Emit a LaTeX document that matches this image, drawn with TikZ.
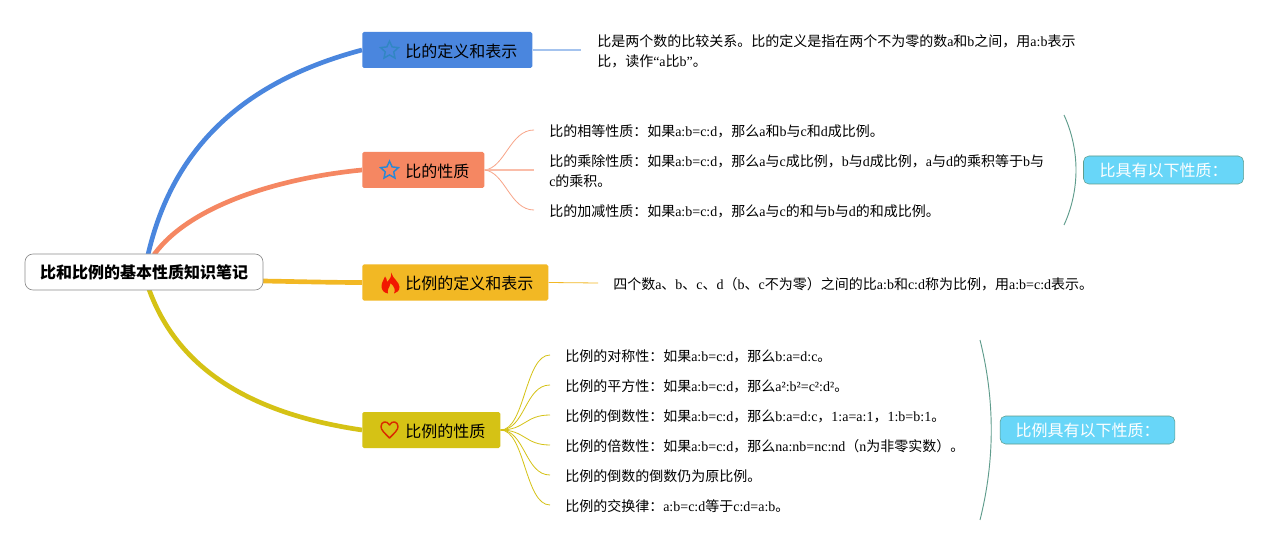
\documentclass[tikz,border=0pt]{standalone}
\usepackage{fontspec}
\setmainfont{Noto Sans CJK SC}
\newfontfamily\latf{Liberation Serif}
\newcommand{\lat}[1]{{\latf #1}}
\usetikzlibrary{shapes.geometric,calc,backgrounds}
\definecolor{cblue}{HTML}{4A86DE}
\definecolor{csalmon}{HTML}{F58762}
\definecolor{corange}{HTML}{F2B824}
\definecolor{cyellow}{HTML}{D5C215}
\definecolor{clabel}{HTML}{68D6F8}
\definecolor{cbrace}{HTML}{5F9C8C}
\tikzset{
  x=0.75pt,y=-0.75pt,
  rootbox/.style={draw=black!45,line width=0.5pt,fill=white,rounded corners=6pt,minimum width=178.5pt,minimum height=27pt,inner sep=0pt,font=\fontsize{12}{14}\selectfont\bfseries},
  branch/.style={fill=#1,rounded corners=1.2pt,minimum height=27pt,inner sep=0pt,anchor=west,font=\fontsize{12}{14}\selectfont},
  branchtext/.style={anchor=west,inner sep=0pt,font=\fontsize{12}{14}\selectfont},
  notetext/.style={anchor=west,inner sep=0pt,align=left,font=\fontsize{10.5}{15}\selectfont},
  labelbox/.style={draw=cbrace,line width=0.4pt,fill=clabel,rounded corners=4pt,minimum height=21pt,inner sep=0pt,text=white,font=\fontsize{12}{14}\selectfont},
  mainline/.style={line width=3.5pt,draw=#1},
  twig/.style={line width=0.6pt,draw=#1},
  bracecurve/.style={line width=0.7pt,draw=cbrace},
  starico/.style={star,star points=5,star point ratio=2.1,minimum size=14pt,inner sep=0pt,fill=none,line width=1.1pt}
}
\begin{document}
\begin{tikzpicture}
\useasboundingbox (0,0) rectangle (1288,545);
% root
\node[rootbox] (root) at (144,272) {\raisebox{-0.6pt}{比和比例的基本性质知识笔记}};
% branches
\node[branch=cblue,minimum width=127.5pt] (b1) at (362,50) {};
\node[branch=csalmon,minimum width=91.5pt] (b2) at (362,170) {};
\node[branch=corange,minimum width=139.5pt] (b3) at (362,282.5) {};
\node[branch=cyellow,minimum width=103.5pt] (b4) at (362,430) {};
\node[branchtext] (t1) at (405,51) {比的定义和表示};
\node[branchtext] (t2) at (405,171) {比的性质};
\node[branchtext] (t3) at (405,283) {比例的定义和表示};
\node[branchtext] (t4) at (405,431) {比例的性质};
% icons
\node[starico,draw=cblue!80!cyan!85!black] (s1) at (389.5,50.5) {};
\node[starico,draw=blue!45!cyan!70!gray] (s2) at (389.5,170.5) {};
\path[fill=red!80!orange!95!black,even odd rule] (391,272.5) .. controls (393,279) and (399.5,282) .. (399.5,287) .. controls (399.5,290.5) and (397,293) .. (394,293.5) .. controls (396,290) and (394,286) .. (390.5,283) .. controls (390,287) and (386.5,290) .. (388,293.5) .. controls (384,293) and (381.5,290) .. (381.5,286.5) .. controls (381.5,282) and (384,280) .. (385,276.5) .. controls (386.5,278) and (387,280) .. (387,282) .. controls (390,279) and (392,276) .. (391,272.5) -- cycle;
\path[draw=red!60!orange!85!black,line width=1.1pt,line join=round] (389.5,438) .. controls (384.5,433) and (381,430) .. (381,426.5) .. controls (381,421.5) and (387,420) .. (389.5,425) .. controls (392,420) and (398,421.5) .. (398,426.5) .. controls (398,430) and (394.5,433) .. (389.5,438) -- cycle;
% notes
\node[notetext] (n1) at (597,51.5) {比是两个数的比较关系。比的定义是指在两个不为零的数\lat{a}和\lat{b}之间，用\lat{a:b}表示\\比，读作\lat{“a}比\lat{b”}。};
\node[notetext] (n21) at (549,131.5) {比的相等性质：如果\lat{a:b=c:d}，那么\lat{a}和\lat{b}与\lat{c}和\lat{d}成比例。};
\node[notetext] (n22) at (549,171.5) {比的乘除性质：如果\lat{a:b=c:d}，那么\lat{a}与\lat{c}成比例，\lat{b}与\lat{d}成比例，\lat{a}与\lat{d}的乘积等于\lat{b}与\\\lat{c}的乘积。};
\node[notetext] (n23) at (549,211.5) {比的加减性质：如果\lat{a:b=c:d}，那么\lat{a}与\lat{c}的和与\lat{b}与\lat{d}的和成比例。};
\node[notetext] (n3) at (613,284.5) {四个数\lat{a}、\lat{b}、\lat{c}、\lat{d}（\lat{b}、\lat{c}不为零）之间的比\lat{a:b}和\lat{c:d}称为比例，用\lat{a:b=c:d}表示。};
\node[notetext] (n41) at (565,356.5) {比例的对称性：如果\lat{a:b=c:d}，那么\lat{b:a=d:c}。};
\node[notetext] (n42) at (565,386.5) {比例的平方性：如果\lat{a:b=c:d}，那么\lat{a²:b²=c²:d²}。};
\node[notetext] (n43) at (565,416.5) {比例的倒数性：如果\lat{a:b=c:d}，那么\lat{b:a=d:c}，\lat{1:a=a:1}，\lat{1:b=b:1}。};
\node[notetext] (n44) at (565,446.5) {比例的倍数性：如果\lat{a:b=c:d}，那么\lat{na:nb=nc:nd}（\lat{n}为非零实数）。};
\node[notetext] (n45) at (565,476.5) {比例的倒数的倒数仍为原比例。};
\node[notetext] (n46) at (565,506.5) {比例的交换律：\lat{a:b=c:d}等于\lat{c:d=a:b}。};
% labels
\node[labelbox,minimum width=120pt] (l1) at (1163.5,170) {比具有以下性质：};
\node[labelbox,minimum width=131pt] (l2) at (1087.5,430) {比例具有以下性质：};
% main connectors
\begin{scope}[on background layer]
\fill[white] (0,0) rectangle (1288,545);
\draw[mainline=cblue] ($(root.north)+(4,1)$) .. controls (170,160) and (230,85) .. (b1.west);
\draw[mainline=csalmon] ($(root.north)+(10,1)$) .. controls (190,205) and (280,178) .. (b2.west);
\draw[mainline=corange] ($(root.east)+(-1,9)$) .. controls (295,281.5) and (330,282.5) .. (b3.west);
\draw[mainline=cyellow] ($(root.south)+(5,-1)$) .. controls (180,375) and (260,415) .. (b4.west);
\end{scope}
% secondary connectors
\draw[line width=1.1pt,draw=cblue!50] (b1.east) -- ($(n1.west)+(-16,-1.5)$);
\draw[twig=corange] (b3.east) -- ($(n3.west)+(-15,-1.5)$);
\coordinate (e21) at ($(n21.west)+(-15,-1.5)$);
\coordinate (e22) at ($(n22.west)+(-15,-1.5)$);
\coordinate (e23) at ($(n23.west)+(-15,-1.5)$);
\draw[twig=csalmon!75] (b2.east) .. controls (505,168) and (510,130) .. (e21);
\draw[twig=csalmon!55,line width=0.8pt] (b2.east) -- (e22);
\draw[twig=csalmon!75] (b2.east) .. controls (505,172) and (510,210) .. (e23);
\foreach \i/\ctrl in {1/356,2/386,3/416,4/446,5/476,6/506}{
  \coordinate (e4\i) at ($(n4\i.west)+(-15,-1.5)$);
  \draw[twig=cyellow] (b4.east) .. controls (525,430) and (525,\ctrl-1) .. (e4\i);
}
% braces
\coordinate (b1a) at (1064,115);
\coordinate (b1b) at (1064,225);
\coordinate (b2a) at (980,340);
\coordinate (b2b) at (980,520);
\draw[bracecurve] (b1a) .. controls (1080,150) and (1080,190) .. (b1b);
\draw[bracecurve] (b2a) .. controls (995,400) and (995,460) .. (b2b);
\end{tikzpicture}
\end{document}
